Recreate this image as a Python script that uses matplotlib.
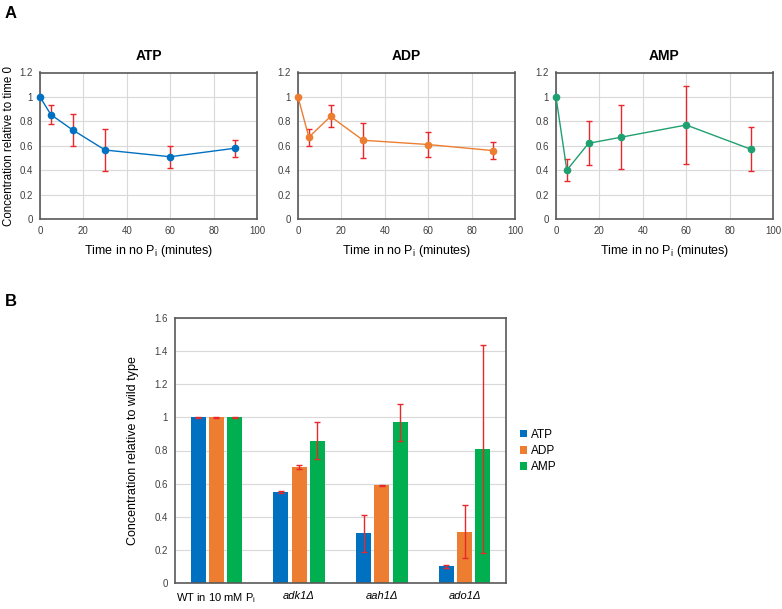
import numpy as np
import matplotlib
matplotlib.use("Agg")
import matplotlib.pyplot as plt
from matplotlib.ticker import FuncFormatter

plt.rcParams['font.family'] = ['Liberation Sans', 'DejaVu Sans']
plt.rcParams['mathtext.fontset'] = 'custom'
plt.rcParams['mathtext.rm'] = 'Liberation Sans'

# time course data (panel A)
times = [0, 5, 15, 30, 60, 90]
atp_time = [1.0, 0.855, 0.73, 0.565, 0.51, 0.58]
atp_err = [0.0, 0.075, 0.13, 0.17, 0.09, 0.07]
adp_time = [1.0, 0.67, 0.84, 0.645, 0.61, 0.56]
adp_err = [0.0, 0.07, 0.09, 0.145, 0.10, 0.07]
amp_time = [1.0, 0.40, 0.62, 0.67, 0.77, 0.57]
amp_err = [0.0, 0.09, 0.18, 0.26, 0.32, 0.18]

# mutant data (panel B)
strains = ['WT in 10 mM P$_\\mathrm{i}$', 'adk1\u0394', 'aah1\u0394', 'ado1\u0394']
atp_bar = [1.0, 0.55, 0.30, 0.10]
atp_bar_err = [0.002, 0.004, 0.11, 0.01]
adp_bar = [1.0, 0.70, 0.59, 0.31]
adp_bar_err = [0.002, 0.012, 0.002, 0.16]
amp_bar = [1.0, 0.86, 0.97, 0.81]
amp_bar_err = [0.002, 0.11, 0.11, 0.63]

blue = '#0070C0'
orange = '#ED7D31'
green = '#00B050'
line_green = '#1FA070'
red = '#E8282B'
spine_c = '#595959'
grid_c = '#D9D9D9'

fmt = FuncFormatter(lambda v, p: '%g' % round(v, 2))

fig = plt.figure(figsize=(7.82, 6.09), dpi=100)

panels = [('ATP', atp_time, atp_err, blue, 40),
          ('ADP', adp_time, adp_err, orange, 298),
          ('AMP', amp_time, amp_err, line_green, 556)]
for i, (name, vals, err, col, left) in enumerate(panels):
    ax = fig.add_axes([left / 782, 390 / 609, 217 / 782, 146.5 / 609])
    ax.errorbar(times, vals, yerr=err, fmt='none', ecolor=red, elinewidth=1,
                capsize=2, capthick=1, zorder=2)
    ax.plot(times, vals, '-o', color=col, lw=1, ms=4.5, zorder=3, clip_on=False)
    ax.set_xlim(0, 100)
    ax.set_ylim(0, 1.2)
    ax.set_xticks(np.arange(0, 101, 20))
    ax.set_yticks(np.arange(0, 1.21, 0.2))
    ax.yaxis.set_major_formatter(fmt)
    ax.grid(True, color=grid_c, lw=0.8)
    ax.set_axisbelow(True)
    ax.tick_params(length=0, labelsize=7, colors='#404040', pad=5)
    for s in ax.spines.values():
        s.set_color(spine_c)
        s.set_linewidth(1.2)
    ax.set_title(name, fontsize=10, fontweight='bold', pad=9)
    ax.set_xlabel('Time in no P$_\\mathrm{i}$ (minutes)', fontsize=9, labelpad=5)
    if i == 0:
        ax.set_ylabel('Concentration relative to time 0', fontsize=8.3, labelpad=3)

# panel B
axb = fig.add_axes([175 / 782, 26 / 609, 331 / 782, 265 / 609])
x = np.arange(len(strains))
w = 0.18
step = 0.22
bars = []
for off, vals, err, col, lab in [(-step, atp_bar, atp_bar_err, blue, 'ATP'),
                                  (0, adp_bar, adp_bar_err, orange, 'ADP'),
                                  (step, amp_bar, amp_bar_err, green, 'AMP')]:
    b = axb.bar(x + off, vals, width=w, color=col, label=lab, zorder=2)
    axb.errorbar(x + off, vals, yerr=err, fmt='none', ecolor=red, elinewidth=1,
                 capsize=2, capthick=1, zorder=3)
    bars.append(b)
axb.set_xlim(-0.5, len(strains) - 0.5)
axb.set_ylim(0, 1.6)
axb.set_yticks(np.arange(0, 1.61, 0.2))
axb.yaxis.set_major_formatter(fmt)
axb.set_xticks(x)
axb.set_xticklabels(strains)
for k, t in enumerate(axb.get_xticklabels()):
    if k > 0:
        t.set_style('italic')
axb.grid(True, axis='y', color=grid_c, lw=0.8)
axb.set_axisbelow(True)
axb.tick_params(length=0, labelsize=7, colors='#404040', pad=5)
axb.tick_params(axis='x', labelsize=8, colors='black', pad=6)
for s in axb.spines.values():
    s.set_color(spine_c)
    s.set_linewidth(1.2)
axb.set_ylabel('Concentration relative to wild type', fontsize=9, labelpad=11)

fig.legend(handles=bars, loc='upper left', bbox_to_anchor=(514 / 782, 1 - 423 / 609),
           frameon=False, fontsize=8.5, handlelength=0.6, handleheight=0.6,
           handletextpad=0.3, labelspacing=0.35, borderpad=0)

fig.text(5 / 782, 1 - 18 / 609, 'A', fontsize=12, fontweight='bold')
fig.text(5 / 782, 1 - 306 / 609, 'B', fontsize=12, fontweight='bold')

fig.savefig('out.png', dpi=100)
